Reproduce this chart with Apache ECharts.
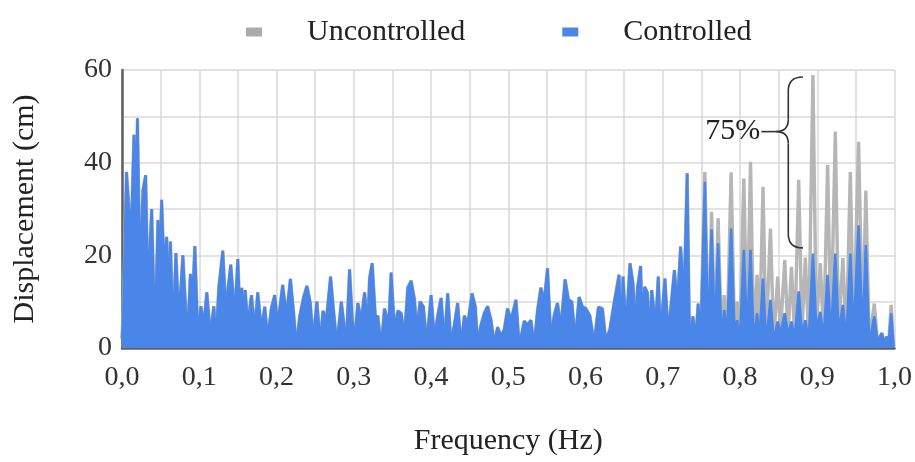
<!DOCTYPE html>
<html>
<head>
<meta charset="utf-8">
<script src="https://cdn.jsdelivr.net/npm/echarts@6/dist/echarts.min.js"></script>
<style>
  html, body { margin: 0; background: #fff; }
  #chart { width: 915px; height: 462px; }
</style>
</head>
<body>
<div id="chart"></div>
<script>
// frequency (Hz) of each sample
const freq = [
  0.0000, 0.0019, 0.0058, 0.0090, 0.0123, 0.0155, 0.0181, 0.0200, 0.0233, 0.0271,
  0.0306, 0.0336, 0.0384, 0.0426, 0.0465, 0.0491, 0.0513, 0.0543, 0.0578, 0.0601,
  0.0627, 0.0659, 0.0698, 0.0730, 0.0762, 0.0788, 0.0827, 0.0853, 0.0885, 0.0917,
  0.0943, 0.0982, 0.1021, 0.1059, 0.1098, 0.1143, 0.1189, 0.1214, 0.1253, 0.1305,
  0.1344, 0.1370, 0.1408, 0.1460, 0.1499, 0.1525, 0.1550, 0.1570, 0.1595, 0.1628,
  0.1676, 0.1718, 0.1757, 0.1805, 0.1848, 0.1886, 0.1934, 0.1977, 0.2016, 0.2080,
  0.2128, 0.2180, 0.2222, 0.2257, 0.2300, 0.2351, 0.2394, 0.2438, 0.2472, 0.2523,
  0.2567, 0.2601, 0.2645, 0.2700, 0.2739, 0.2782, 0.2839, 0.2903, 0.2946, 0.2981,
  0.3010, 0.3053, 0.3097, 0.3140, 0.3182, 0.3204, 0.3239, 0.3282, 0.3311, 0.3355,
  0.3398, 0.3453, 0.3484, 0.3527, 0.3570, 0.3614, 0.3656, 0.3699, 0.3743, 0.3786,
  0.3815, 0.3859, 0.3902, 0.3944, 0.4001, 0.4044, 0.4087, 0.4131, 0.4173, 0.4216,
  0.4260, 0.4302, 0.4345, 0.4389, 0.4432, 0.4474, 0.4531, 0.4574, 0.4603, 0.4647,
  0.4690, 0.4733, 0.4777, 0.4819, 0.4862, 0.4906, 0.4948, 0.4991, 0.5035, 0.5100,
  0.5142, 0.5207, 0.5249, 0.5293, 0.5336, 0.5378, 0.5422, 0.5465, 0.5508, 0.5552,
  0.5594, 0.5637, 0.5681, 0.5736, 0.5779, 0.5823, 0.5866, 0.5917, 0.5960, 0.6004,
  0.6056, 0.6111, 0.6167, 0.6219, 0.6262, 0.6314, 0.6370, 0.6434, 0.6460, 0.6486,
  0.6525, 0.6576, 0.6615, 0.6641, 0.6673, 0.6714, 0.6738, 0.6764, 0.6800, 0.6828,
  0.6857, 0.6908, 0.6942, 0.6970, 0.6994, 0.7028, 0.7071, 0.7151, 0.7188, 0.7231,
  0.7274, 0.7316, 0.7348, 0.7390, 0.7425, 0.7459, 0.7490, 0.7545, 0.7588, 0.7632,
  0.7674, 0.7717, 0.7761, 0.7795, 0.7833, 0.7885, 0.7929, 0.7963, 0.7997, 0.8049,
  0.8092, 0.8136, 0.8178, 0.8221, 0.8252, 0.8298, 0.8337, 0.8394, 0.8437, 0.8488,
  0.8523, 0.8579, 0.8622, 0.8666, 0.8708, 0.8760, 0.8802, 0.8846, 0.8889, 0.8944,
  0.8988, 0.9040, 0.9083, 0.9134, 0.9177, 0.9234, 0.9276, 0.9332, 0.9376, 0.9428,
  0.9470, 0.9535, 0.9587, 0.9629, 0.9673, 0.9738, 0.9780, 0.9836, 0.9871, 0.9901,
  0.9922, 0.9957, 0.9987, 1.0000
];

// displacement (cm), controlled structure
const controlled = [
  2, 9, 38, 30, 27, 46, 34, 49.6, 15, 34,
  37.3, 12, 30, 2, 27.6, 20, 32, 17.5, 24, 10,
  23, 3, 20.5, 8, 13, 20, 7.5, 4, 16, 12,
  22, 2.4, 9, 5, 12, 3, 9, 1, 13, 21,
  8, 12.5, 18, 7, 19.2, 8, 13, 6, 12.5, 5,
  11.4, 3.9, 12, 3.9, 8.9, 2.2, 8.6, 11.4, 5, 13.6,
  7, 14.9, 7.5, 0.3, 6.8, 11, 13.4, 9.7, 1.7, 10,
  1, 8, 6, 15.4, 8, 0.7, 10, 1, 17, 6,
  1.5, 9.7, 6, 12, 5, 15, 18.3, 6, 7, 0.3,
  8.5, 5, 16.3, 4, 8, 7.5, 2.5, 13, 14.5, 10.5,
  4, 10, 8.9, 1, 11.4, 2, 7, 10.8, 1, 11.8,
  1, 5, 9.7, 0.5, 7, 5, 11.8, 8.9, 1, 5,
  7.5, 9, 6, 1, 4.5, 2.5, 4, 8.5, 6, 10.4,
  0.5, 5.8, 5, 6, 0.5, 8, 13, 10, 17.2, 2,
  7, 9.7, 4.5, 14.8, 10.4, 10, 1.7, 11, 8.9, 8.5,
  7, 1, 8.8, 8.5, 1.7, 3.9, 9.7, 15.8, 3, 15.4,
  4, 18.3, 14, 4, 13, 17.7, 3, 13.2, 12, 2.5,
  12.5, 5, 15.4, 3, 8, 15, 3, 16.8, 9, 21.9,
  10.4, 37.7, 0.3, 6.8, 2, 9.6, 1.5, 35.9, 1, 25.6,
  3, 22.6, 1.5, 8.2, 2.4, 25.8, 3, 6, 1, 21.2,
  3, 21.2, 1, 7.5, 2, 15, 0.8, 10.4, 1.5, 5.7,
  3, 7.5, 2.8, 5.7, 2, 12.2, 3, 6, 1.4, 20.4,
  4, 7.8, 2, 15.8, 2.5, 20.4, 3.5, 9.3, 1.5, 20.4,
  3, 26.5, 2.5, 22.2, 1, 6.8, 1.4, 3.2, 1, 2.5,
  0.5, 7.5, 0.5, 0.3
];

// displacement (cm), uncontrolled structure
const uncontrolled = [
  2, 9, 38, 30, 27, 46, 34, 49.6, 15, 34,
  37.3, 12, 30, 2, 27.6, 20, 32, 17.5, 24, 10,
  23, 3, 20.5, 8, 13, 20, 7.5, 4, 16, 12,
  22, 2.4, 9, 5, 12, 3, 9, 1, 13, 21,
  8, 12.5, 18, 7, 19.2, 8, 13, 6, 12.5, 5,
  11.4, 3.9, 12, 3.9, 8.9, 2.2, 8.6, 11.4, 5, 13.6,
  7, 14.9, 7.5, 0.3, 6.8, 11, 13.4, 9.7, 1.7, 10,
  1, 8, 6, 15.4, 8, 0.7, 10, 1, 17, 6,
  1.5, 9.7, 6, 12, 5, 15, 18.3, 6, 7, 0.3,
  8.5, 5, 16.3, 4, 8, 7.5, 2.5, 13, 14.5, 10.5,
  4, 10, 8.9, 1, 11.4, 2, 7, 10.8, 1, 11.8,
  1, 5, 9.7, 0.5, 7, 5, 11.8, 8.9, 1, 5,
  7.5, 9, 6, 1, 4.5, 2.5, 4, 8.5, 6, 10.4,
  0.5, 5.8, 5, 6, 0.5, 8, 13, 10, 17.2, 2,
  7, 9.7, 4.5, 14.8, 10.4, 10, 1.7, 11, 8.9, 8.5,
  7, 1, 8.8, 8.5, 1.7, 3.9, 9.7, 15.8, 3, 15.4,
  4, 18.3, 14, 4, 13, 17.7, 3, 13.2, 12, 2.5,
  12.5, 5, 15.4, 3, 8, 15, 3, 16.8, 9, 21.9,
  10.4, 37.7, 0.3, 6.8, 2, 9.6, 1.5, 38, 1, 29.4,
  3, 28, 1.5, 11.4, 2.4, 37.9, 3, 10, 1, 36.6,
  3, 40.2, 1, 15.8, 2, 34.8, 0.8, 25.8, 1.5, 15.4,
  3, 19, 2.8, 17.5, 2, 36.3, 3, 19.5, 1.4, 58.9,
  4, 18.3, 2, 39.5, 2.5, 46.7, 3.5, 19.4, 1.5, 38,
  3, 44.5, 2.5, 34, 1, 9.6, 1.4, 3.2, 1, 2.5,
  0.5, 9.3, 0.5, 0.3
];

const seriesNames = ['Uncontrolled', 'Controlled'];

// "75%" brace annotation, in data units: [freq, displacement]
const braceTop = [0.8815, 58.5];
const braceTip = [0.8470, 46.7];
const braceBottom = [0.8815, 21.6];
const braceStemFreq = 0.8625;
const braceLabel = '75%';

const font = '"Liberation Serif", "Times New Roman", serif';

const chart = echarts.init(document.getElementById('chart'));

function pairs(ys) {
  return freq.map((f, i) => [f, ys[i]]);
}

chart.setOption({
  animation: false,
  legend: {
    data: seriesNames,
    left: 241,
    top: 12,
    icon: 'rect',
    itemWidth: 16,
    itemHeight: 9,
    itemGap: 97,
    textStyle: { fontFamily: font, fontSize: 30, color: '#222', padding: [0, 0, 0, 40] },
  },
  grid: { left: 122, right: 19, top: 70, bottom: 114 },
  xAxis: {
    type: 'value',
    min: 0,
    max: 1,
    interval: 0.05,
    name: 'Frequency (Hz)',
    nameLocation: 'middle',
    nameGap: 78,
    nameTextStyle: { fontFamily: font, fontSize: 30, color: '#222' },
    axisLine: { lineStyle: { color: '#5f5f5f', width: 2.5 } },
    axisTick: { show: false },
    axisLabel: {
      fontFamily: font,
      fontSize: 28,
      color: '#333',
      margin: 16,
      showMaxLabel: true,
      formatter: (v) => (Math.round(v * 20) % 2 === 0 ? v.toFixed(1).replace('.', ',') : ''),
    },
    splitLine: { lineStyle: { color: '#d9d9d9', width: 1.5 } },
  },
  yAxis: {
    type: 'value',
    min: 0,
    max: 60,
    interval: 10,
    name: 'Displacement (cm)',
    nameLocation: 'middle',
    nameGap: 82,
    nameTextStyle: { fontFamily: font, fontSize: 30, color: '#222' },
    axisLine: { show: true, lineStyle: { color: '#5f5f5f', width: 2.5 } },
    axisTick: { show: false },
    axisLabel: {
      fontFamily: font,
      fontSize: 28,
      color: '#333',
      margin: 10,
      formatter: (v) => (v % 20 === 0 ? String(v) : ''),
    },
    splitLine: { lineStyle: { color: '#d9d9d9', width: 1.5 } },
  },
  series: [
    {
      name: 'Uncontrolled',
      type: 'line',
      data: pairs(uncontrolled),
      showSymbol: false,
      color: '#ababab',
      lineStyle: { width: 3.4, color: '#b6b6b6' },
      z: 2,
    },
    {
      name: 'Controlled',
      type: 'line',
      data: pairs(controlled),
      showSymbol: false,
      color: '#4a86e8',
      lineStyle: { width: 2.6, color: '#4a86e8' },
      areaStyle: { color: '#4a86e8', opacity: 1 },
      z: 3,
    },
  ],
});

// brace + label drawn after the axes exist
function drawBrace() {
  const px = (p) => chart.convertToPixel({ gridIndex: 0 }, p);
  const top = px(braceTop);
  const tip = px(braceTip);
  const bot = px(braceBottom);
  const xs = px([braceStemFreq, 0])[0];
  const pen = { stroke: '#333', lineWidth: 1.6, fill: null };
  const curve = (x1, y1, cx, cy, x2, y2) => ({
    type: 'bezierCurve', z: 10, style: pen,
    shape: { x1, y1, cpx1: cx, cpy1: cy, x2, y2 },
  });
  const seg = (x1, y1, x2, y2) => ({ type: 'line', z: 10, style: pen, shape: { x1, y1, x2, y2 } });
  chart.setOption({
    graphic: [
      curve(top[0], top[1], xs, top[1], xs, top[1] + 14),
      seg(xs, top[1] + 14, xs, tip[1] - 12),
      curve(xs, tip[1] - 12, xs, tip[1], tip[0], tip[1]),
      curve(tip[0], tip[1], xs, tip[1], xs, tip[1] + 12),
      seg(xs, tip[1] + 12, xs, bot[1] - 14),
      curve(xs, bot[1] - 14, xs, bot[1], bot[0], bot[1]),
      seg(tip[0] - 15, tip[1], tip[0], tip[1]),
      {
        type: 'text', x: tip[0] - 16, y: tip[1], z: 10,
        style: { text: braceLabel, font: '30px ' + font, fill: '#222', align: 'right', verticalAlign: 'middle' },
      },
    ],
  });
}
drawBrace();
</script>
</body>
</html>
